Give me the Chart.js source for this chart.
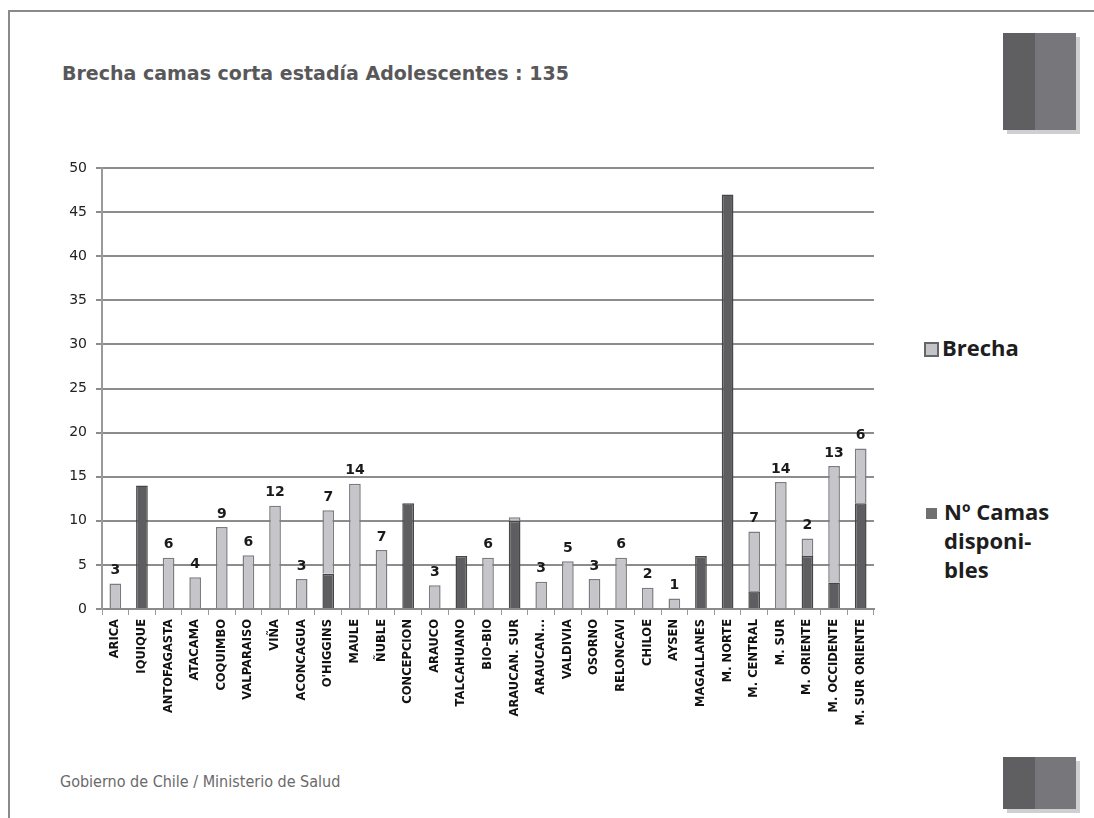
<!DOCTYPE html>
<html>
<head>
<meta charset="utf-8">
<script src="https://cdn.jsdelivr.net/npm/chart.js@4.4.1/dist/chart.umd.min.js"></script>
<style>
  html, body { margin: 0; padding: 0; background: #fff; }
  #page { position: relative; width: 1094px; height: 818px; overflow: hidden; }
  #frame { position: absolute; left: 8px; top: 10px; width: 1100px; height: 820px; border-left: 2px solid #8a8a8a; border-top: 2px solid #8a8a8a; }
  #title { position: absolute; left: 62px; top: 62px; font: bold 19px "DejaVu Sans", sans-serif; color: #58585a; }
  #footer { position: absolute; left: 60px; top: 772px; font: 16px "DejaVu Sans Condensed", "DejaVu Sans", sans-serif; font-stretch: condensed; color: #6a6a6a; }
  .deco { position: absolute; box-shadow: 4px 4px 0 #cfcfd1; }
  .deco .l { position: absolute; left: 0; top: 0; width: 32px; height: 100%; background: #5f5f61; }
  .deco .r { position: absolute; left: 32px; top: 0; width: 41px; height: 100%; background: #77777b; }
  .leg { position: absolute; font: bold 22px "Open Sans", sans-serif; color: #1e1e1e; line-height: 29px; }
  .sw { position: absolute; }
  canvas { position: absolute; left: 0; top: 0; }
</style>
</head>
<body>
<div id="page">
  <div id="frame"></div>
  <div id="title">Brecha camas corta estadía Adolescentes : 135</div>
  <div class="deco" style="left:1003px;top:33px;width:73px;height:97px"><div class="l"></div><div class="r"></div></div>
  <div class="deco" style="left:1003px;top:757px;width:73px;height:52px"><div class="l"></div><div class="r"></div></div>
  <div class="sw" style="left:924px;top:342px;width:11px;height:11px;background:#c4c4c8;border:2px solid #666"></div>
  <div class="leg" style="left:942px;top:333px">Brecha</div>
  <div class="sw" style="left:926px;top:508px;width:11px;height:11px;background:#707072"></div>
  <div class="leg" style="left:944px;top:497px">Nº Camas<br>disponi-<br>bles</div>
  <div id="footer">Gobierno de Chile / Ministerio de Salud</div>
  <canvas id="chart" width="1094" height="818"></canvas>
</div>
<script>
const categories = ["ARICA", "IQUIQUE", "ANTOFAGASTA", "ATACAMA", "COQUIMBO", "VALPARAISO", "VIÑA",
    "ACONCAGUA", "O'HIGGINS", "MAULE", "ÑUBLE", "CONCEPCION", "ARAUCO", "TALCAHUANO", "BIO-BIO",
    "ARAUCAN. SUR", "ARAUCAN...", "VALDIVIA", "OSORNO", "RELONCAVI", "CHILOE", "AYSEN", "MAGALLANES",
    "M. NORTE", "M. CENTRAL", "M. SUR", "M. ORIENTE", "M. OCCIDENTE", "M. SUR ORIENTE"]

// Nº camas disponibles (dark, bottom of the stack)
const camas = [0, 14, 0, 0, 0, 0, 0, 0, 4, 0, 0, 12, 0, 6, 0, 10, 0, 0, 0, 0, 0, 0, 6, 47, 2, 0, 6, 3, 12]
// Brecha (light, top of the stack)
const brecha = [2.9, 0, 5.8, 3.6, 9.3, 6.1, 11.7, 3.4, 7.2, 14.2, 6.7, 0, 2.7, 0, 5.8, 0.4, 3.1, 5.4, 3.4, 5.8,
    2.4, 1.2, 0, 0, 6.8, 14.4, 2, 13.2, 6.2]

const yTicks = { min: 0, max: 50, step: 5 }

// value labels above each stack (brecha, rounded)
const barLabels = {
    id: 'barLabels',
    afterDatasetsDraw(chart) {
        const ctx = chart.ctx
        const meta = chart.getDatasetMeta(1)
        ctx.save()
        ctx.font = 'bold 14px "DejaVu Sans", sans-serif'
        ctx.fillStyle = '#1a1a1a'
        ctx.textAlign = 'center'
        ctx.textBaseline = 'bottom'
        brecha.forEach((v, i) => {
            const r = Math.round(v)
            if (!r) return
            const bar = meta.data[i]
            ctx.fillText(String(r), bar.x, bar.y - 6)
        })
        ctx.restore()
    }
}

const zeroless = (ctx) => (ctx.raw ? 1.5 : 0)

new Chart(document.getElementById('chart'), {
    type: 'bar',
    data: {
        labels: categories,
        datasets: [
            {
                label: 'Nº Camas disponibles',
                data: camas,
                backgroundColor: '#5e5e60',
                borderColor: '#464648',
                borderWidth: zeroless,
                barPercentage: 0.44,
                categoryPercentage: 1
            },
            {
                label: 'Brecha',
                data: brecha,
                backgroundColor: '#c6c6ca',
                borderColor: '#7c7c80',
                borderWidth: zeroless,
                barPercentage: 0.44,
                categoryPercentage: 1
            }
        ]
    },
    options: {
        responsive: false,
        animation: false,
        layout: { padding: { left: 55, top: 168, right: 220, bottom: 78 } },
        plugins: { legend: { display: false }, tooltip: { enabled: false } },
        scales: {
            x: {
                stacked: true,
                afterFit: (s) => { s.height = 131 },
                grid: { offset: true, drawOnChartArea: false, tickLength: 6, color: '#9a9a9a' },
                border: { color: '#8a8a8a', width: 2 },
                ticks: {
                    autoSkip: false, maxRotation: 90, minRotation: 90, padding: 4,
                    color: '#111', font: { family: 'DejaVu Sans', weight: 'bold', size: 11.5 }
                }
            },
            y: {
                stacked: true,
                min: yTicks.min,
                max: yTicks.max,
                afterFit: (s) => { s.width = 47 },
                grid: { color: '#8c8c8c', lineWidth: 2, tickLength: 6 },
                border: { color: '#9a9a9a', width: 2 },
                ticks: {
                    stepSize: yTicks.step, padding: 9,
                    color: '#222', font: { family: 'DejaVu Sans', size: 14 }
                }
            }
        }
    },
    plugins: [barLabels]
})
</script>
</body>
</html>
